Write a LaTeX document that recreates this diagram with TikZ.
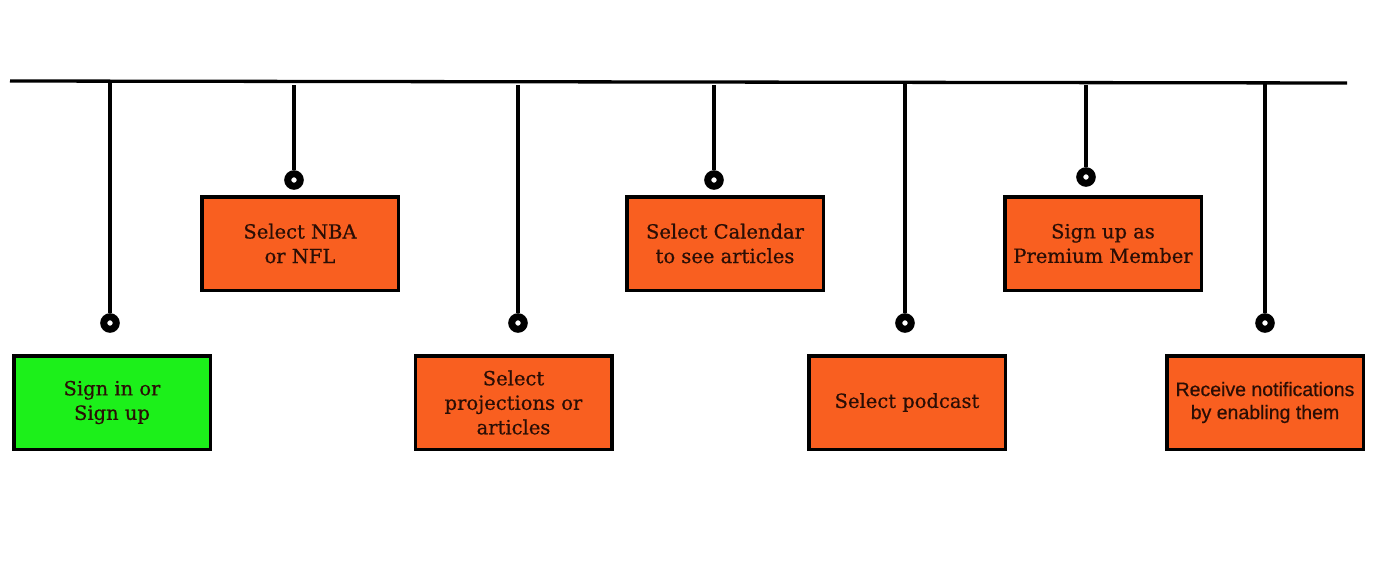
\documentclass[tikz,border=0pt]{standalone}
\usepackage{fontspec}
\setmainfont{DejaVu Serif}[FakeBold=0.6]
\newfontfamily\sansalt{Liberation Sans}[FakeBold=0.6]
\definecolor{boxorange}{HTML}{F95F20}
\definecolor{boxgreen}{HTML}{1CF01A}
\definecolor{txt}{HTML}{2A0E05}
\begin{document}
\begin{tikzpicture}[x=1pt,y=-1pt,
  stepbox/.style={draw=black, line width=3.5pt, fill=boxorange, minimum width=196.5pt, minimum height=93.5pt, inner sep=0pt, align=center, text=txt, font=\fontsize{19.5}{24.5}\selectfont},
  knob/.style={circle, draw=black, fill=white, line width=7pt, minimum size=12.5pt, inner sep=0pt},
  wire/.style={draw=black, line width=3.3pt}]
\useasboundingbox[fill=white] (0,0) rectangle (1380,578);
% main bar
\coordinate (L) at (10,81);
\coordinate (R) at (1347,83);
\draw[wire] (L) -- (R);
% top attachment points
\coordinate (t1) at (110,81.5);
\coordinate (t2) at (294,85);
\coordinate (t3) at (518,85);
\coordinate (t4) at (714,85);
\coordinate (t5) at (905,82.5);
\coordinate (t6) at (1086,85);
\coordinate (t7) at (1265,83);
% knobs
\node[knob] (k1) at (110,323) {};
\node[knob] (k2) at (294,180) {};
\node[knob] (k3) at (518,323) {};
\node[knob] (k4) at (714,180) {};
\node[knob] (k5) at (905,323) {};
\node[knob] (k6) at (1086,177) {};
\node[knob] (k7) at (1265,323) {};
\foreach \i in {1,...,7} {\draw[wire] (t\i) -- (k\i);}
% boxes
\node[stepbox, fill=boxgreen] (b1) at (112,402.5) {Sign in or\\Sign up};
\node[stepbox] (b2) at (300,243.5) {Select NBA\\or NFL};
\node[stepbox] (b3) at (513.5,402.5) {Select\\projections or\\articles};
\node[stepbox] (b4) at (725,243.5) {Select Calendar\\to see articles};
\node[stepbox] (b5) at (907,402.5) {Select podcast};
\node[stepbox] (b6) at (1103,243.5) {Sign up as\\Premium Member};
\node[stepbox, font=\sansalt\fontsize{19.5}{23}\selectfont] (b7) at (1265,402.5) {Receive notifications\\by enabling them};
\end{tikzpicture}
\end{document}
